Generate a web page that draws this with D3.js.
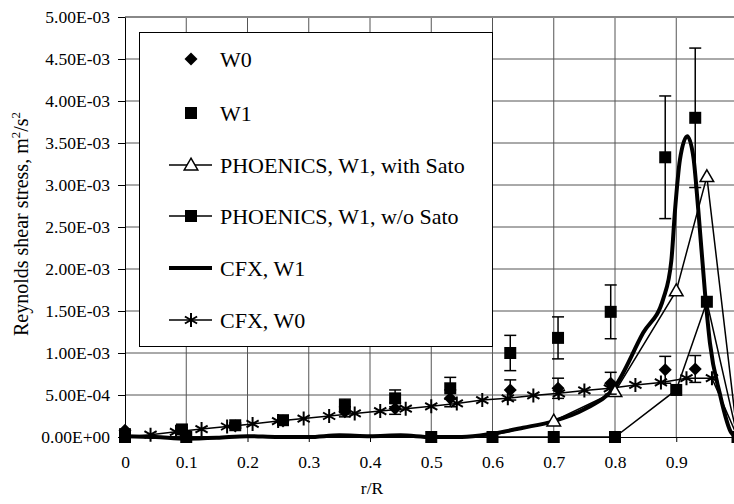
<!DOCTYPE html>
<html>
<head>
<meta charset="utf-8">
<script src="https://cdn.jsdelivr.net/npm/d3@7"></script>
<style>
  body { margin: 0; background: #fff; }
  svg { display: block; font-family: "Liberation Serif", "Times New Roman", serif; }
  .axis path, .axis line { stroke: #000; }
  .axis text { font-size: 17.5px; fill: #000; font-family: "Liberation Serif", serif; }
</style>
</head>
<body>
<svg id="chart" width="734" height="504"></svg>
<script>
// experimental radial positions (W0 and W1 measured at same r)
const expR = [0, 0.093, 0.18, 0.258, 0.359, 0.441, 0.531, 0.629, 0.707, 0.793, 0.882, 0.931];
const w0Vals = [8e-5, 7e-5, 1.3e-4, 1.9e-4, 3.0e-4, 3.4e-4, 4.6e-4, 5.6e-4, 5.8e-4, 6.4e-4, 8.0e-4, 8.1e-4];
const w0Err  = [1.6e-5, 1.4e-5, 2.6e-5, 3.8e-5, 6e-5, 7e-5, 1.0e-4, 1.2e-4, 1.2e-4, 1.3e-4, 1.6e-4, 1.6e-4];
const w1Vals = [2e-5, 9e-5, 1.4e-4, 2.0e-4, 3.7e-4, 4.6e-4, 5.8e-4, 1.0e-3, 1.18e-3, 1.49e-3, 3.33e-3, 3.8e-3];
const w1Err  = [4e-6, 2e-5, 3e-5, 4e-5, 8e-5, 1.0e-4, 1.3e-4, 2.1e-4, 2.5e-4, 3.2e-4, 7.3e-4, 8.3e-4];

// PHOENICS grid
const phxR = [0, 0.1, 0.5, 0.6, 0.7, 0.8, 0.9, 0.95, 1.0];
const phxSato = [0, 0, 0, 2e-5, 1.9e-4, 5.4e-4, 1.74e-3, 3.1e-3, 0];
const phxNoSato = [0, 0, 0, 0, 0, 0, 5.6e-4, 1.61e-3, 0];

// CFX W1 (smooth curve)
const cfxW1R = [0, 0.05, 0.1, 0.15, 0.2, 0.25, 0.3, 0.35, 0.4, 0.45, 0.5, 0.55, 0.6, 0.65, 0.7, 0.75, 0.8, 0.846, 0.879, 0.892, 0.898, 0.906, 0.918, 0.928, 0.936, 0.947, 0.955, 0.971, 0.99, 1.0];
const cfxW1V = [1e-5, 0, -2e-5, -1e-5, 1e-5, 0, 0, 2e-5, 1e-5, 2e-5, 0, 0, 4e-5, 1.1e-4, 1.9e-4, 3.3e-4, 6e-4, 1.24e-3, 1.65e-3, 2.1e-3, 2.7e-3, 3.3e-3, 3.58e-3, 3.33e-3, 2.7e-3, 1.71e-3, 1.12e-3, 5.2e-4, 5e-5, 0];

// CFX W0 (asterisks)
const cfxW0R = [0, 0.0417, 0.0833, 0.125, 0.1667, 0.2083, 0.25, 0.2917, 0.3333, 0.375, 0.4167, 0.4583, 0.5, 0.5417, 0.5833, 0.625, 0.6667, 0.7083, 0.75, 0.7917, 0.8333, 0.875, 0.9167, 0.9583, 1.0];
const cfxW0V = [0, 2.8e-5, 6.2e-5, 9.4e-5, 1.25e-4, 1.56e-4, 1.9e-4, 2.2e-4, 2.5e-4, 2.8e-4, 3.09e-4, 3.37e-4, 3.65e-4, 4.0e-4, 4.4e-4, 4.6e-4, 4.95e-4, 5.2e-4, 5.55e-4, 5.8e-4, 6.2e-4, 6.5e-4, 7.0e-4, 7.0e-4, 0];

const xTicks = [0, 0.1, 0.2, 0.3, 0.4, 0.5, 0.6, 0.7, 0.8, 0.9];
const xTickLabels = ["0", "0.1", "0.2", "0.3", "0.4", "0.5", "0.6", "0.7", "0.8", "0.9"];
const xGrid = [0.1, 0.2, 0.3, 0.4, 0.5, 0.6, 0.7, 0.8, 0.9, 1.0];
const yTicks = [0, 5e-4, 1e-3, 1.5e-3, 2e-3, 2.5e-3, 3e-3, 3.5e-3, 4e-3, 4.5e-3, 5e-3];
const yTickLabels = ["0.00E+00", "5.00E-04", "1.00E-03", "1.50E-03", "2.00E-03", "2.50E-03", "3.00E-03", "3.50E-03", "4.00E-03", "4.50E-03", "5.00E-03"];

const legendLabels = ["W0", "W1", "PHOENICS, W1, with Sato", "PHOENICS, W1, w/o Sato", "CFX, W1", "CFX, W0"];

const svg = d3.select('#chart');

const x = d3.scaleLinear().domain([0, 1]).range([125, 737.5]);
const y = d3.scaleLinear().domain([0, 5e-3]).range([437, 17]);

// grid
const grid = svg.append('g');
grid.selectAll('.vg').data(xGrid).join('line')
    .attr('x1', d => x(d)).attr('x2', d => x(d))
    .attr('y1', y(0)).attr('y2', y(5e-3))
    .attr('stroke', '#555').attr('stroke-width', 1);
grid.selectAll('.hg').data(yTicks.slice(1)).join('line')
    .attr('x1', x(0)).attr('x2', x(1))
    .attr('y1', d => y(d)).attr('y2', d => y(d))
    .attr('stroke', d => d === 5e-3 ? '#888' : '#555')
    .attr('stroke-width', d => d === 5e-3 ? 2 : 1);

// axes
svg.append('g')
    .attr('class', 'axis')
    .attr('transform', `translate(${x(0)},0)`)
    .call(d3.axisLeft(y).tickValues(yTicks).tickFormat((d, i) => yTickLabels[i]).tickSize(7).tickSizeOuter(0).tickPadding(8));

svg.append('g')
    .attr('class', 'axis')
    .attr('transform', `translate(0,${y(0)})`)
    .call(d3.axisBottom(x).tickValues(xTicks).tickFormat((d, i) => xTickLabels[i]).tickSize(5).tickSizeOuter(0).tickPadding(14));

// axis titles
svg.append('text')
    .attr('x', 372).attr('y', 494)
    .attr('text-anchor', 'middle')
    .style('font-size', '17.5px')
    .text('r/R');

const yTitle = svg.append('text')
    .attr('transform', 'translate(28,224) rotate(-90)')
    .attr('text-anchor', 'middle')
    .style('font-size', '20px');
yTitle.append('tspan').text('Reynolds shear stress, m');
yTitle.append('tspan').attr('dy', -8).style('font-size', '13px').text('2');
yTitle.append('tspan').attr('dy', 8).text('/s');
yTitle.append('tspan').attr('dy', -8).style('font-size', '13px').text('2');

// marker helpers
const sq = d3.symbol(d3.symbolSquare, 144);
const dia = d3.symbol(d3.symbolSquare, 85);
const tri = d3.symbol(d3.symbolTriangle, 80);
function asterisk(r) {
    const a = r * 0.87, b = r * 0.5;
    return `M0,${-r}V${r}M${-a},${-b}L${a},${b}M${-a},${b}L${a},${-b}`;
}

const data = svg.append('g');
const lineGen = d3.line().x(d => x(d[0])).y(d => y(d[1]));

// CFX W1 thick curve
data.append('path')
    .datum(d3.zip(cfxW1R, cfxW1V))
    .attr('d', d3.line().x(d => x(d[0])).y(d => y(d[1])).curve(d3.curveMonotoneX))
    .attr('fill', 'none').attr('stroke', '#000').attr('stroke-width', 4);

// PHOENICS lines
data.append('path').datum(d3.zip(phxR, phxSato)).attr('d', lineGen)
    .attr('fill', 'none').attr('stroke', '#000').attr('stroke-width', 1.5);
data.append('path').datum(d3.zip(phxR, phxNoSato)).attr('d', lineGen)
    .attr('fill', 'none').attr('stroke', '#000').attr('stroke-width', 1.5);

// CFX W0 line + asterisks
const w0pts = d3.zip(cfxW0R, cfxW0V);
data.append('path').datum(w0pts).attr('d', lineGen)
    .attr('fill', 'none').attr('stroke', '#000').attr('stroke-width', 1.5);
data.selectAll('.ast').data(w0pts.slice(1, -1)).join('path')
    .attr('d', asterisk(7))
    .attr('transform', d => `translate(${x(d[0])},${y(d[1])})`)
    .attr('stroke', '#000').attr('stroke-width', 2).attr('fill', 'none');

// PHOENICS markers
data.selectAll('.psq').data(d3.zip(phxR, phxNoSato)).join('path')
    .attr('d', sq)
    .attr('transform', d => `translate(${x(d[0])},${y(d[1])})`)
    .attr('fill', '#000');
data.selectAll('.ptri').data(d3.zip(phxR, phxSato).filter(d => d[1] > 1e-4)).join('path')
    .attr('d', tri)
    .attr('transform', d => `translate(${x(d[0])},${y(d[1]) + 1})`)
    .attr('fill', '#fff').attr('stroke', '#000').attr('stroke-width', 1.5);

// error bars
function errorBars(vals, errs) {
    const g = data.append('g').attr('stroke', '#000').attr('stroke-width', 1.5);
    vals.forEach((v, i) => {
        const cx = x(expR[i]);
        const top = y(v + errs[i]), bot = y(v - errs[i]);
        g.append('line').attr('x1', cx).attr('x2', cx).attr('y1', top).attr('y2', bot);
        g.append('line').attr('x1', cx - 6).attr('x2', cx + 6).attr('y1', top).attr('y2', top);
        g.append('line').attr('x1', cx - 6).attr('x2', cx + 6).attr('y1', bot).attr('y2', bot);
    });
}
errorBars(w0Vals, w0Err);
errorBars(w1Vals, w1Err);

// experimental markers
data.selectAll('.w0').data(d3.zip(expR, w0Vals)).join('path')
    .attr('d', dia)
    .attr('transform', d => `translate(${x(d[0])},${y(d[1])}) rotate(45)`)
    .attr('fill', '#000');
data.selectAll('.w1').data(d3.zip(expR, w1Vals)).join('path')
    .attr('d', sq)
    .attr('transform', d => `translate(${x(d[0])},${y(d[1])})`)
    .attr('fill', '#000');

// legend
const lg = svg.append('g');
lg.append('rect')
    .attr('x', 139.5).attr('y', 32.5).attr('width', 353).attr('height', 314)
    .attr('fill', '#fff').attr('stroke', '#000').attr('stroke-width', 1);
const legendY = [59, 113, 165, 216, 268, 320];
const mx = 191;
legendLabels.forEach((lab, i) => {
    const ly = legendY[i];
    if (i >= 2) {
        lg.append('line').attr('x1', 169).attr('x2', 212).attr('y1', ly).attr('y2', ly)
            .attr('stroke', '#000').attr('stroke-width', i === 4 ? 4 : 1.5);
    }
    if (i === 0) lg.append('path').attr('d', dia).attr('transform', `translate(${mx},${ly}) rotate(45)`).attr('fill', '#000');
    if (i === 1 || i === 3) lg.append('path').attr('d', sq).attr('transform', `translate(${mx},${ly})`).attr('fill', '#000');
    if (i === 2) lg.append('path').attr('d', tri).attr('transform', `translate(${mx},${ly + 1})`).attr('fill', '#fff').attr('stroke', '#000').attr('stroke-width', 1.5);
    if (i === 5) lg.append('path').attr('d', asterisk(7)).attr('transform', `translate(${mx},${ly})`).attr('stroke', '#000').attr('stroke-width', 2);
    lg.append('text').attr('x', 220).attr('y', ly).attr('dy', '0.35em')
        .style('font-size', '22px').text(lab);
});
</script>
</body>
</html>
